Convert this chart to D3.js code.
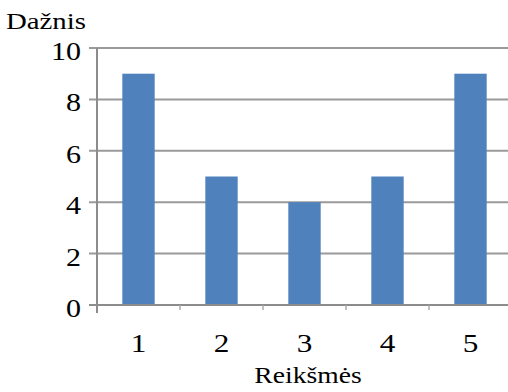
<!DOCTYPE html>
<html><head><meta charset="utf-8">
<script src="https://cdn.jsdelivr.net/npm/d3@7"></script>
<style>body{margin:0;background:#fff}svg{display:block}</style>
</head><body>
<script>
const categories = ["1","2","3","4","5"];
const values = [9,5,4,5,9];
const yTicks = [0,2,4,6,8,10];
const yTitle = "Dažnis";
const xTitle = "Reikšmės";

const FONT = "'Liberation Serif'";
const SX = 1.2;
const W=508,H=392;
const svg=d3.select("body").append("svg").attr("width",W).attr("height",H);
const x=d3.scaleBand().domain(categories).range([97,512]).paddingInner(0.61).paddingOuter(0.305);
const y=d3.scaleLinear().domain([0,10]).range([305,48]);

function label(px,py,txt,size,anchor){
  svg.append("text").attr("transform",`translate(${px},${py}) scale(${SX},1)`)
    .attr("text-anchor",anchor).attr("font-size",size).style("font-family",FONT)
    .attr("fill","#000").text(txt);
}

// gridlines
svg.append("g").selectAll("line").data(yTicks.filter(d=>d>0)).join("line")
  .attr("x1",89).attr("x2",508).attr("y1",d=>y(d)).attr("y2",d=>y(d))
  .attr("stroke","#9a9a9a").attr("stroke-width",2);

// bars
svg.append("g").selectAll("rect").data(values).join("rect")
  .attr("x",(d,i)=>x(categories[i])).attr("width",x.bandwidth())
  .attr("y",d=>y(d)).attr("height",d=>y(0)-y(d))
  .attr("fill","#4f81bd");

// x axis
const xb=d3.scaleLinear().domain([0,5]).range([97,512]);
svg.append("line").attr("x1",89).attr("x2",508).attr("y1",y(0)).attr("y2",y(0)).attr("stroke","#8c8c8c").attr("stroke-width",2);
svg.append("g").selectAll("line").data([1,2,3,4]).join("line")
  .attr("x1",d=>xb(d)).attr("x2",d=>xb(d)).attr("y1",y(0)).attr("y2",y(0)+5)
  .attr("stroke","#aaa").attr("stroke-width",1.5);
categories.forEach(c=>label(x(c)+x.bandwidth()/2,352,c,26,"middle"));

// y axis
svg.append("line").attr("x1",97).attr("x2",97).attr("y1",y(10)).attr("y2",313).attr("stroke","#8c8c8c").attr("stroke-width",2);
yTicks.forEach(t=>label(81,y(t)+12,String(t),25,"end"));

label(6,29,yTitle,24,"start");
label(308,383,xTitle,23,"middle");
</script>
</body></html>
